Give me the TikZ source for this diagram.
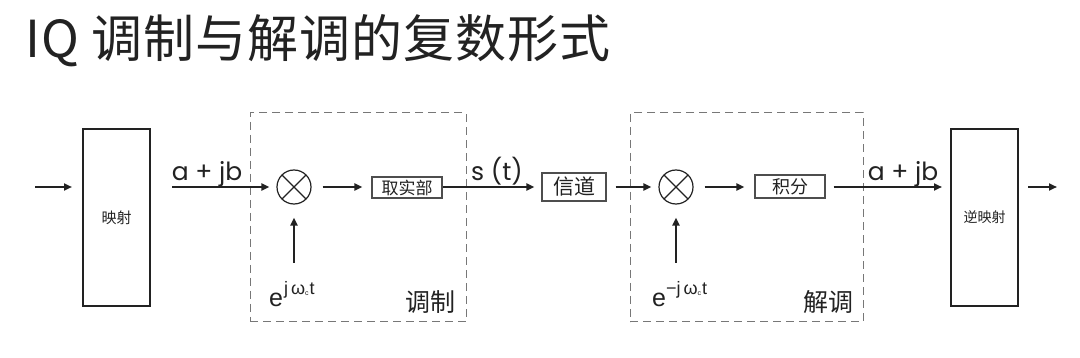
\documentclass[tikz,border=0pt]{standalone}
\usepackage{fontspec}
\setmainfont{Liberation Sans}
\newfontfamily\cjk{Noto Sans CJK SC}
\newfontfamily\cjktitle[LetterSpace=2]{Noto Sans CJK SC}
\newfontfamily\geo{Poppins}
\usetikzlibrary{arrows.meta}
\definecolor{ink}{HTML}{222222}
\definecolor{dashgray}{HTML}{777777}
\newcommand{\fsz}[1]{\fontsize{#1}{#1}\selectfont}
\begin{document}
\begin{tikzpicture}[x=1pt,y=-1pt,
  every node/.style={text=ink},
  arr/.style={draw=ink,line width=2pt,-{Triangle[length=8pt,width=7pt]}},
  bigbox/.style={draw=ink,line width=2pt,minimum width=67pt,minimum height=177pt,inner sep=0pt},
  smallbox/.style={draw=ink!80,line width=1.2pt,inner sep=0pt},
  mult/.style={circle,draw=ink,line width=1.2pt,minimum size=34pt,inner sep=0pt,
    path picture={\draw[ink,line width=1.2pt]
      (path picture bounding box.north west) -- (path picture bounding box.south east)
      (path picture bounding box.north east) -- (path picture bounding box.south west);}},
  dashbox/.style={draw=dashgray,dash pattern=on 8pt off 5pt,line width=1pt,inner sep=0pt},
  lab/.style={font=\geo\fsz{25}},
  cnlab/.style={font=\cjk\fsz{25}}]
\useasboundingbox[fill=white] (0,0) rectangle (1080,358);

% title
\node[anchor=base west,inner sep=0pt] (title) at (25,58) {\cjktitle\fsz{51}IQ 调制与解调的复数形式};

% dashed groups
\node[dashbox,minimum width=216pt,minimum height=209pt] (modg) at (358,217.5) {};
\node[dashbox,minimum width=233pt,minimum height=209pt] (demg) at (746.5,217.5) {};

% blocks
\node[bigbox] (map) at (116.5,217.5) {\cjk\fsz{15}映射};
\node[bigbox] (imap) at (984.5,217.5) {\cjk\fsz{14}逆映射};
\node[mult] (m1) at (294,187) {};
\node[mult] (m2) at (676,187) {};
\node[smallbox,minimum width=70pt,minimum height=21pt] (re) at (407,187.5) {\cjk\fsz{17}取实部};
\node[smallbox,minimum width=64pt,minimum height=28pt] (ch) at (574,187) {\cjk\fsz{21}信道};
\node[smallbox,minimum width=70pt,minimum height=23pt] (intg) at (790,186.5) {\cjk\fsz{18}积分};

% free ends
\coordinate (in) at (35,187);
\coordinate (out) at (1057,187);
\coordinate (lo1) at (294,263);
\coordinate (lo2) at (676,263);

% connectors
\draw[arr,shorten >=10pt] (in) -- (map.west |- in);
\draw[arr,shorten <=21pt,shorten >=7pt] (map.east |- m1) -- (m1.west);
\draw[arr,shorten <=11pt,shorten >=9pt] (m1.east) -- (re.west |- m1);
\draw[arr,shorten >=7pt] (re.east |- m1) -- (ch.west |- m1);
\draw[arr,shorten <=9pt,shorten >=7pt] (ch.east |- m2) -- (m2.west);
\draw[arr,shorten <=11pt,shorten >=10pt] (m2.east) -- (intg.west |- m2);
\draw[arr,shorten <=8pt,shorten >=8pt] (intg.east |- m2) -- (imap.west |- m2);
\draw[arr,shorten <=9pt] (imap.east |- m2) -- (out);
\draw[arr,shorten >=13pt] (lo1) -- (m1.south);
\draw[arr,shorten >=13pt] (lo2) -- (m2.south);

% labels
\node[lab,anchor=base] (l1) at (207,181) {a + jb};
\node[lab,anchor=base] (l2) at (497,181) {s (t)};
\node[lab,anchor=base] (l3) at (903,181) {a + jb};

\node[anchor=base west,inner sep=0pt] (e1) at (269,307)
  {\fsz{25}e\raisebox{12pt}{\fsz{18}\kern1pt j\kern3pt ω\raisebox{-1pt}{\fsz{7}c}\kern1pt t}};
\node[anchor=base west,inner sep=0pt] (e2) at (652,307)
  {\fsz{25}e\raisebox{12pt}{\fsz{18}−j\kern3pt ω\raisebox{-1pt}{\fsz{7}c}\kern1pt t}};

\node[cnlab] (modt) at (430,302.5) {调制};
\node[cnlab] (demt) at (828,302.5) {解调};
\end{tikzpicture}
\end{document}
